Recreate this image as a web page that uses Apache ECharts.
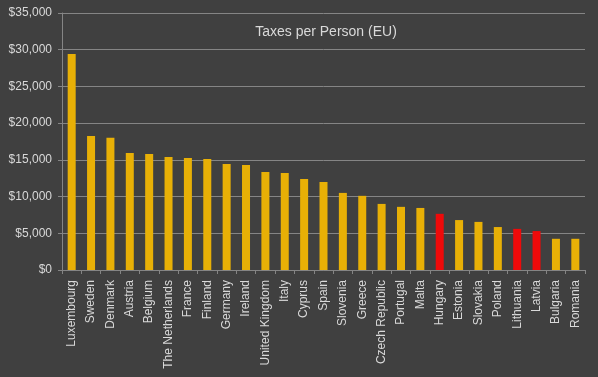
<!DOCTYPE html>
<html>
<head>
<meta charset="utf-8">
<script src="https://cdn.jsdelivr.net/npm/echarts@6/dist/echarts.min.js"></script>
<style>
  html, body { margin: 0; padding: 0; background: #404040; }
  #chart { width: 598px; height: 377px; }
</style>
</head>
<body>
<div id="chart"></div>
<script>
const countries = ['Luxembourg', 'Sweden', 'Denmark', 'Austria', 'Belgium', 'The Netherlands', 'France', 'Finland',
  'Germany', 'Ireland', 'United Kingdom', 'Italy', 'Cyprus', 'Spain', 'Slovenia', 'Greece', 'Czech Republic',
  'Portugal', 'Malta', 'Hungary', 'Estonia', 'Slovakia', 'Poland', 'Lithuania', 'Latvia', 'Bulgaria', 'Romania']
const taxes = [29400, 18250, 18000, 15950, 15800, 15400, 15250, 15100, 14450, 14300, 13350, 13200, 12400, 12000,
  10500, 10100, 9000, 8600, 8450, 7650, 6800, 6550, 5850, 5600, 5300, 4250, 4250]
const highlighted = ['Hungary', 'Lithuania', 'Latvia']
const yTicks = [0, 5000, 10000, 15000, 20000, 25000, 30000, 35000]

const colors = { bar: '#E8B006', highlight: '#EE0A0A', grid: '#858585', text: '#D9D9D9' }
const font = 'Liberation Sans, Arial, sans-serif'

const chart = echarts.init(document.getElementById('chart'))
chart.setOption({
  backgroundColor: '#404040',
  animation: false,
  title: {
    text: 'Taxes per Person (EU)',
    left: 321,
    textAlign: 'center',
    top: 20,
    textStyle: { color: colors.text, fontSize: 14, fontWeight: 'normal', fontFamily: font },
  },
  grid: { left: 62, right: 13, top: 13, bottom: 107 },
  xAxis: {
    type: 'category',
    data: countries,
    axisLine: { lineStyle: { color: colors.grid } },
    axisTick: { show: true, length: 4, lineStyle: { color: colors.grid } },
    axisLabel: { rotate: 90, interval: 0, color: colors.text, fontSize: 12, fontFamily: font, margin: 10 },
  },
  yAxis: {
    type: 'value',
    min: yTicks[0],
    max: yTicks[yTicks.length - 1],
    interval: 5000,
    axisLine: { show: true, lineStyle: { color: colors.grid } },
    axisTick: { show: true, length: 4, lineStyle: { color: colors.grid } },
    splitLine: { lineStyle: { color: colors.grid } },
    axisLabel: {
      color: colors.text,
      fontSize: 12,
      fontFamily: font,
      margin: 10,
      formatter: v => '$' + v.toLocaleString('en-US'),
    },
  },
  series: [{
    type: 'bar',
    barWidth: 8,
    data: taxes.map((v, i) => ({
      value: v,
      itemStyle: { color: highlighted.includes(countries[i]) ? colors.highlight : colors.bar },
    })),
  }],
})
</script>
</body>
</html>
